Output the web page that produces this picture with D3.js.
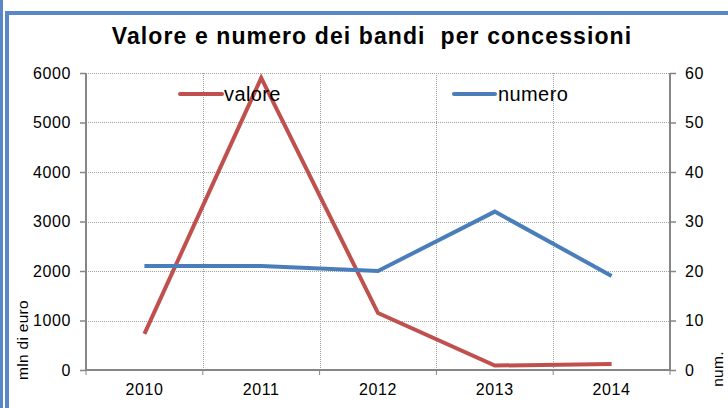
<!doctype html>
<html>
<head>
<meta charset="utf-8">
<style>
  body { margin: 0; background: #fff; }
  text { font-family: "Liberation Sans", Arial, sans-serif; fill: #000; white-space: pre; }
</style>
<script src="https://d3js.org/d3.v7.min.js"></script>
</head>
<body>
<svg width="728" height="408"></svg>
<script>
var anni = ["2010", "2011", "2012", "2013", "2014"];
var valore = [730, 5900, 1150, 90, 120];
var numero = [21, 21, 20, 32, 19];
var tickSx = [0, 1000, 2000, 3000, 4000, 5000, 6000];
var tickDx = [0, 10, 20, 30, 40, 50, 60];

var svg = d3.select("svg");

// frame like the pasted excel chart
svg.append("rect").attr("x", 0).attr("y", 0).attr("width", 3).attr("height", 408).attr("fill", "#5a87c6");
svg.append("rect").attr("x", 7).attr("y", 13).attr("width", 730).attr("height", 420)
   .attr("fill", "none").attr("stroke", "#5a87c6").attr("stroke-width", 4);

var pLeft = 86, pRight = 670, pTop = 73, pBottom = 370;

var x = d3.scaleBand().domain(anni).range([pLeft, pRight]);
var yL = d3.scaleLinear().domain([0, 6000]).range([pBottom, pTop]);
var yR = d3.scaleLinear().domain([0, 60]).range([pBottom, pTop]);

// grid
svg.append("g").selectAll("line").data(tickSx.slice(1)).enter().append("line")
   .attr("x1", pLeft).attr("x2", pRight)
   .attr("y1", function(d) { return Math.round(yL(d)) + 0.5; }).attr("y2", function(d) { return Math.round(yL(d)) + 0.5; })
   .attr("stroke", "#a0a0a0").attr("stroke-width", 1).attr("stroke-dasharray", "1,1");
svg.append("g").selectAll("line").data(anni.slice(1)).enter().append("line")
   .attr("x1", function(d) { return Math.round(x(d)) + 0.5; }).attr("x2", function(d) { return Math.round(x(d)) + 0.5; })
   .attr("y1", pTop).attr("y2", pBottom)
   .attr("stroke", "#a0a0a0").attr("stroke-width", 1).attr("stroke-dasharray", "1,1");

// axes
var axL = svg.append("g").attr("transform", "translate(" + pLeft + ",0)")
   .call(d3.axisLeft(yL).tickValues(tickSx).tickSize(6).tickPadding(9).tickFormat(d3.format("d")));
var axR = svg.append("g").attr("transform", "translate(" + pRight + ",0)")
   .call(d3.axisRight(yR).tickValues(tickDx).tickSize(6).tickPadding(9));
var axB = svg.append("g").attr("transform", "translate(0," + pBottom + ")")
   .call(d3.axisBottom(x).tickSize(0).tickPadding(14));
axB.selectAll(".bound").data(anni.concat(["end"])).enter().append("line")
   .attr("x1", function(d, i) { return pLeft + i * x.bandwidth(); })
   .attr("x2", function(d, i) { return pLeft + i * x.bandwidth(); })
   .attr("y1", 0).attr("y2", 5).attr("stroke", "#868686");

[axL, axR, axB].forEach(function(a) {
  a.select(".domain").attr("stroke", "#868686").attr("stroke-width", 2);
  a.selectAll(".tick line").attr("stroke", "#868686").attr("stroke-width", 1.5);
  a.selectAll("text").attr("font-size", 16).attr("letter-spacing", 0.6)
   .attr("font-family", "Liberation Sans, Arial, sans-serif").attr("fill", "#000");
});
axL.select(".domain").attr("d", "M0," + pTop + "V" + pBottom);
axR.select(".domain").attr("d", "M0," + pTop + "V" + pBottom);
axB.select(".domain").attr("d", "M" + pLeft + ",0H" + pRight);

// lines
var cx = function(d, i) { return x(anni[i]) + x.bandwidth() / 2; };
svg.append("path").datum(valore)
   .attr("d", d3.line().x(cx).y(function(d) { return yL(d); }))
   .attr("fill", "none").attr("stroke", "#c0504d").attr("stroke-width", 4);
svg.append("path").datum(numero)
   .attr("d", d3.line().x(cx).y(function(d) { return yR(d); }))
   .attr("fill", "none").attr("stroke", "#4a7ebb").attr("stroke-width", 4);

// title
svg.append("text").attr("x", 372).attr("y", 44).attr("text-anchor", "middle")
   .attr("font-size", 23).attr("font-weight", "bold").attr("letter-spacing", 1.1)
   .text("Valore e numero dei bandi  per concessioni");

// legend
svg.append("line").attr("x1", 180).attr("x2", 222).attr("y1", 94).attr("y2", 94)
   .attr("stroke", "#c0504d").attr("stroke-width", 4).attr("stroke-linecap", "round");
svg.append("text").attr("x", 224).attr("y", 101).attr("font-size", 20).attr("letter-spacing", 0.4).text("valore");
svg.append("line").attr("x1", 454).attr("x2", 495).attr("y1", 94).attr("y2", 94)
   .attr("stroke", "#4a7ebb").attr("stroke-width", 4).attr("stroke-linecap", "round");
svg.append("text").attr("x", 498).attr("y", 101).attr("font-size", 20).attr("letter-spacing", 0.4).text("numero");

// axis titles
svg.append("text").attr("transform", "translate(28,340) rotate(-90)")
   .attr("text-anchor", "middle").attr("font-size", 15.5).attr("letter-spacing", 0.3).text("mln di euro");
svg.append("text").attr("transform", "translate(723,369) rotate(-90)")
   .attr("text-anchor", "middle").attr("font-size", 15.5).attr("letter-spacing", 0.3).text("num.");
</script>
</body>
</html>
